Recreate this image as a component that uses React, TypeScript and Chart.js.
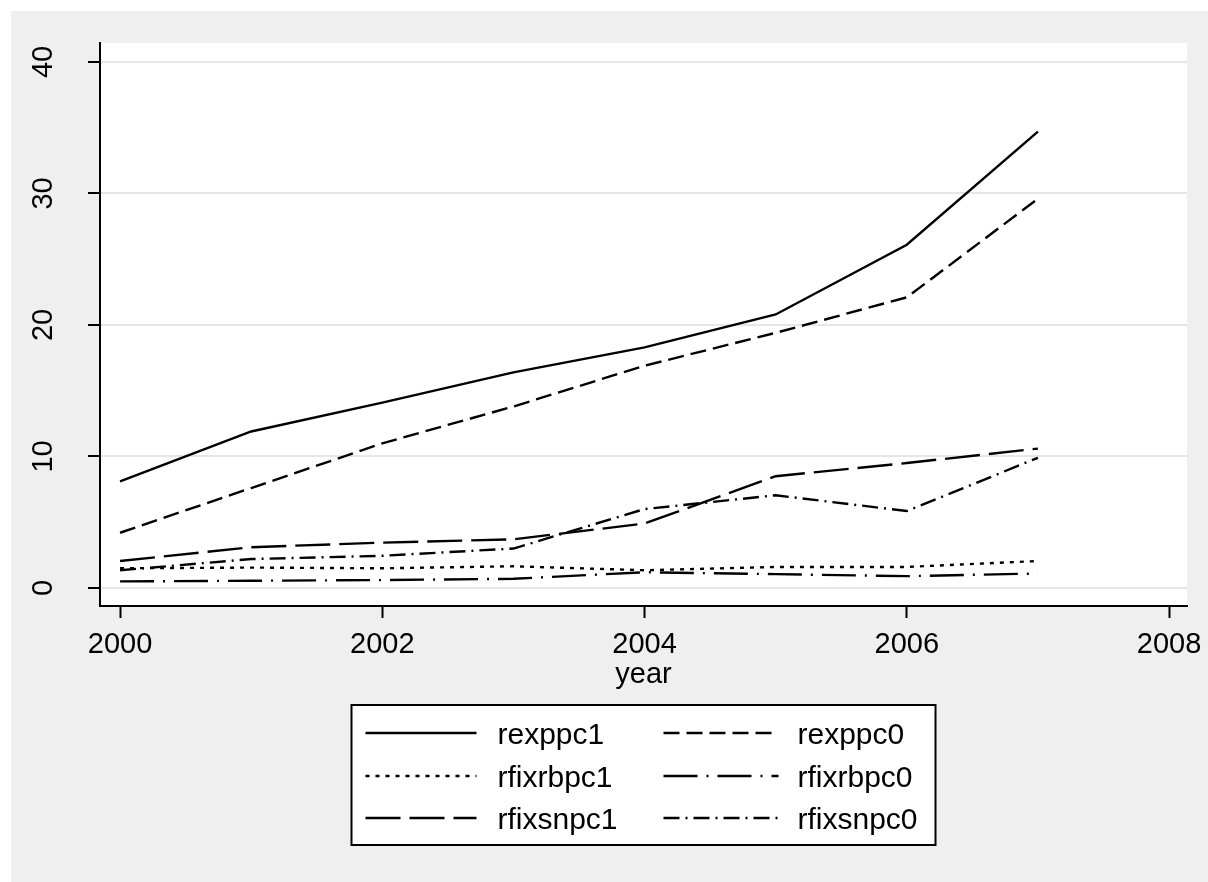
import React, { useEffect, useRef } from "react";
import { Chart, registerables } from "chart.js";

Chart.register(...registerables);

const years = [2000, 2001, 2002, 2003, 2004, 2005, 2006, 2007];
const rexppc1 = [8.1, 11.9, 14.1, 16.4, 18.3, 20.8, 26.1, 34.7];
const rexppc0 = [4.2, 7.6, 11.0, 13.8, 16.9, 19.4, 22.1, 29.6];
const rfixrbpc1 = [1.5, 1.55, 1.5, 1.65, 1.35, 1.6, 1.6, 2.05];
const rfixrbpc0 = [0.5, 0.55, 0.6, 0.7, 1.2, 1.05, 0.9, 1.1];
const rfixsnpc1 = [2.05, 3.1, 3.45, 3.7, 4.9, 8.5, 9.5, 10.6];
const rfixsnpc0 = [1.35, 2.2, 2.45, 3.0, 6.0, 7.05, 5.85, 9.9];

const seriesNames = ["rexppc1", "rexppc0", "rfixrbpc1", "rfixrbpc0", "rfixsnpc1", "rfixsnpc0"];
const seriesValues = [rexppc1, rexppc0, rfixrbpc1, rfixrbpc0, rfixsnpc1, rfixsnpc0];
const seriesDash: number[][] = [[], [16, 7], [4, 6], [34, 9, 2, 9], [35, 9], [16, 6, 2, 6]];

const xTicks = [2000, 2002, 2004, 2006, 2008];
const yTicks = [0, 10, 20, 30, 40];
const xTitle = "year";

const FONT = "'Liberation Sans', Arial, Helvetica, sans-serif";
const FS = 29;
const LW = 2.4;

const stataPlugin = {
  id: "stataPlugin",
  beforeDraw(chart: any) {
    const { ctx, chartArea } = chart;
    ctx.save();
    ctx.fillStyle = "#ffffff";
    ctx.fillRect(chartArea.left, chartArea.top, chartArea.right - chartArea.left, chartArea.bottom - chartArea.top);
    ctx.restore();
  },
  afterDraw(chart: any) {
    const { ctx, chartArea } = chart;
    const ys = chart.scales.y;
    ctx.save();
    ctx.fillStyle = "#000";
    ctx.font = `${FS}px ${FONT}`;
    for (const t of ys.ticks) {
      const py = ys.getPixelForValue(t.value);
      ctx.save();
      ctx.translate(41, py);
      ctx.rotate(-Math.PI / 2);
      ctx.textAlign = "center";
      ctx.textBaseline = "alphabetic";
      ctx.fillText(String(t.value), 0, 0);
      ctx.restore();
    }
    const cx = (chartArea.left + chartArea.right) / 2;
    ctx.textAlign = "center";
    ctx.textBaseline = "alphabetic";
    ctx.fillText(xTitle, cx, 672);

    const boxW = 584;
    const boxL = cx - boxW / 2;
    const boxT = 694;
    const boxH = 140;
    ctx.fillStyle = "#ffffff";
    ctx.fillRect(boxL, boxT, boxW, boxH);
    ctx.strokeStyle = "#000";
    ctx.lineWidth = 2;
    ctx.strokeRect(boxL, boxT, boxW, boxH);
    const rowY = [722, 765, 807];
    const colSample = [[14, 125], [312, 427]];
    const colText = [146, 446];
    ctx.textAlign = "left";
    ctx.fillStyle = "#000";
    ctx.font = `30px ${FONT}`;
    chart.data.datasets.forEach((ds: any, i: number) => {
      const r = Math.floor(i / 2);
      const c = i % 2;
      const y = rowY[r];
      ctx.save();
      ctx.beginPath();
      ctx.setLineDash(ds.borderDash || []);
      ctx.lineWidth = LW;
      ctx.strokeStyle = "#000";
      ctx.lineCap = "butt";
      ctx.moveTo(boxL + colSample[c][0], y);
      ctx.lineTo(boxL + colSample[c][1], y);
      ctx.stroke();
      ctx.restore();
      ctx.fillText(ds.label, boxL + colText[c], y + 11);
    });
    ctx.restore();
  },
};

export default function App() {
  const ref = useRef<HTMLCanvasElement>(null);
  useEffect(() => {
    if (!ref.current) return;
    Chart.defaults.font.family = FONT;
    const chart = new Chart(ref.current, {
      type: "line",
      data: {
        datasets: seriesNames.map((name, i) => ({
          label: name,
          data: years.map((yr, j) => ({ x: yr, y: seriesValues[i][j] })),
          borderColor: "#000",
          borderWidth: LW,
          borderDash: seriesDash[i],
          pointRadius: 0,
          tension: 0,
          fill: false,
        })),
      },
      options: {
        animation: false,
        responsive: false,
        layout: { padding: { left: 0, top: 32, right: 21, bottom: 0 } },
        plugins: { legend: { display: false }, tooltip: { enabled: false } },
        scales: {
          x: {
            type: "linear",
            min: 1999.847,
            max: 2008.137,
            afterBuildTicks: (s: any) => {
              s.ticks = xTicks.map((v) => ({ value: v }));
            },
            afterFit: (s: any) => {
              s.height = 276;
              s.paddingLeft = 0;
              s.paddingRight = 0;
            },
            grid: { drawOnChartArea: false, drawTicks: true, tickLength: 12, tickWidth: 2, tickColor: "#000" },
            border: { color: "#000", width: 2 },
            ticks: {
              font: { family: FONT, size: FS },
              color: "#000",
              padding: 10,
              maxRotation: 0,
              minRotation: 0,
              autoSkip: false,
              callback: (v: any) => String(v),
            },
          },
          y: {
            type: "linear",
            min: -1.37,
            max: 41.44,
            afterBuildTicks: (s: any) => {
              s.ticks = yTicks.map((v) => ({ value: v }));
            },
            afterFit: (s: any) => {
              s.width = 89;
              s.paddingTop = 0;
              s.paddingBottom = 0;
            },
            grid: { color: "#e6e6e6", lineWidth: 2, drawTicks: true, tickLength: 12, tickWidth: 2, tickColor: "#000" },
            border: { color: "#000", width: 2 },
            ticks: { display: false },
          },
        },
      },
      plugins: [stataPlugin],
    });
    return () => chart.destroy();
  }, []);
  return (
    <div
      style={{
        position: "fixed",
        left: 11,
        top: 11,
        right: -30,
        bottom: -30,
        background: "#efefef",
      }}
    >
      <canvas ref={ref} width={1197} height={871} style={{ display: "block" }} />
    </div>
  );
}
